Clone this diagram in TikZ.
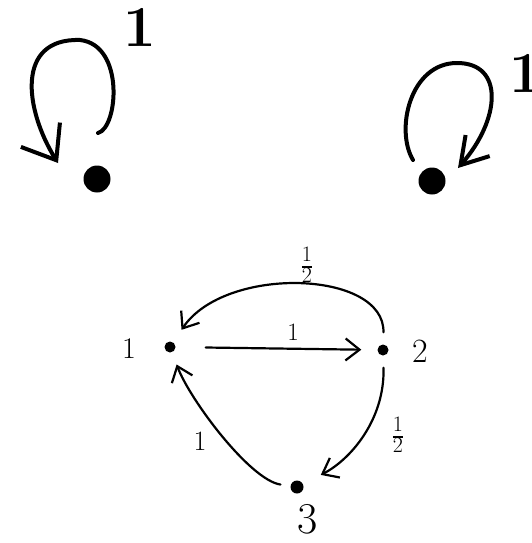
\documentclass[tikz,border=0pt]{standalone}
\usetikzlibrary{arrows.meta}
\newcommand{\halfstack}{{\renewcommand{\arraystretch}{0.72}\setlength{\arrayrulewidth}{1.6pt}\begin{tabular}{@{}c@{}}1\\\hline 2\end{tabular}}}
\begin{document}
\begin{tikzpicture}[x=1pt,y=-1pt,
  bigdot/.style={circle,fill=black,inner sep=0pt,minimum size=27pt},
  smalldot/.style={circle,fill=black,inner sep=0pt,minimum size=11pt},
  loopline/.style={line width=4pt,line cap=round,line join=round},
  edgeline/.style={line width=2.2pt,line cap=round,line join=round},
  barb/.style={-{Straight Barb[length=14pt,width=22pt]}},
  lbl/.style={inner sep=0pt},
  fraclbl/.style={inner sep=0pt,font=\fontsize{22}{23}\selectfont}]
\useasboundingbox (0,0) rectangle (531,543);
% top-left
\node[bigdot] (ta) at (97,179) {};
\coordinate (tas) at (98,133);
\coordinate (tat) at (58,163);
\draw[loopline,-{Straight Barb[length=30pt,width=46pt]}] (tas) .. controls (118,128) and (125,45) .. (80,40)
  .. controls (15,38) and (25,110) .. (tat);
\node[lbl,font=\fontsize{58}{60}\selectfont\bfseries] (tal) at (140,27) {1};
% top-right
\node[bigdot] (tb) at (432,181) {};
\coordinate (tbs) at (413,160);
\coordinate (tbt) at (458,168);
\draw[loopline,-{Straight Barb[length=26pt,width=32pt]}] (tbs) .. controls (395,130) and (410,63) .. (457,63)
  .. controls (505,63) and (500,120) .. (tbt);
\node[lbl,font=\fontsize{58}{60}\selectfont\bfseries] (tbl) at (526,73) {1};
% bottom graph
\node[smalldot] (n1) at (170,347) {};
\node[smalldot] (n2) at (383,350) {};
\node[smalldot,minimum size=13pt] (n3) at (297,487) {};
\node[lbl,font=\fontsize{30}{32}\selectfont] at (129,349) {1};
\node[lbl,font=\fontsize{34}{36}\selectfont] at (420,351) {2};
\node[lbl,font=\fontsize{44}{46}\selectfont] at (308,519) {3};
\draw[edgeline,barb,shorten <=30pt,shorten >=16pt] (n1) -- (n2);
\node[lbl,font=\fontsize{25}{27}\selectfont] at (293,332) {1};
\draw[edgeline,barb,shorten <=12pt,shorten >=15pt] (n2) .. controls (385,270) and (225,265) .. (n1);
\node[fraclbl] at (307,267) {\halfstack};
\draw[edgeline,barb,shorten <=12pt,shorten >=20pt] (n2) .. controls (385,420) and (350,460) .. (n3);
\node[fraclbl] at (398,437) {\halfstack};
\draw[edgeline,barb,shorten <=10pt,shorten >=13pt] (n3) .. controls (250,480) and (190,400) .. (n1);
\node[lbl,font=\fontsize{28}{30}\selectfont] at (200,441) {1};
\end{tikzpicture}
\end{document}
